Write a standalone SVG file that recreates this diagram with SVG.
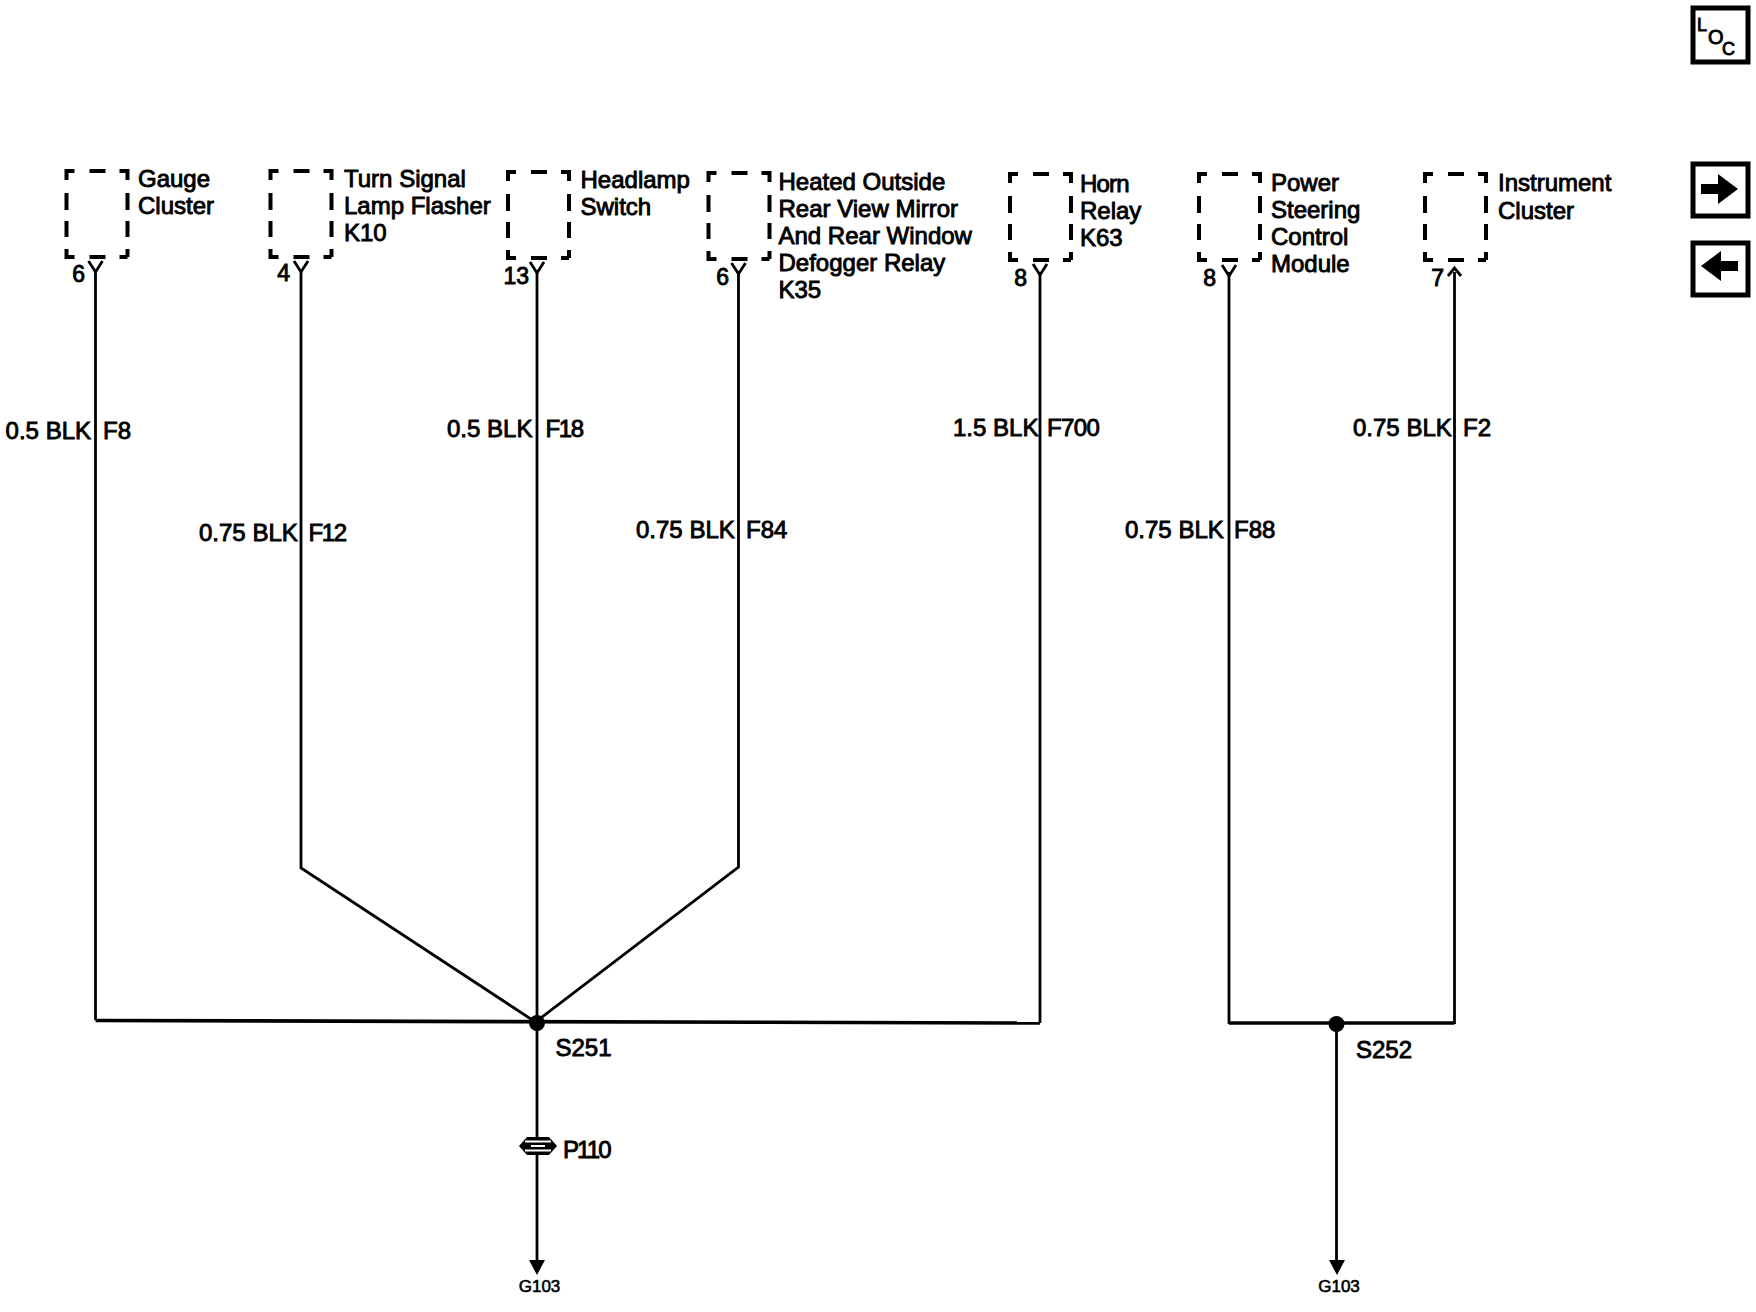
<svg xmlns="http://www.w3.org/2000/svg" width="1756" height="1312" viewBox="0 0 1756 1312">
<style>
text{font-family:"Liberation Sans",Arial,sans-serif;font-size:24px;fill:#000;stroke:#000;stroke-width:.9px}
.pin{text-anchor:end;font-size:23px}
.g{font-size:17px;text-anchor:middle;stroke-width:.6px}
.n{letter-spacing:-1.4px}
.w{fill:none;stroke:#000;stroke-width:2.8}
.bus{fill:none;stroke:#000;stroke-width:3.6}
.b{fill:none;stroke:#000;stroke-width:4}
.ic{fill:#fff;stroke:#000;stroke-width:5}
</style>
<defs>
<path id="box" class="b" d="M0,9V0H8M23,0H39M53,0H61V9M61,22V39M61,50V66M61,86V78M61,86H53M39,86H23M8,86H0V78M0,66V50M0,39V22"/>
<path id="y" class="w" d="M-7,0L0,11L7,0"/>
</defs>
<rect width="1756" height="1312" fill="#fff"/>
<g id="connectors">
<path class="w" d="M95.500,272V1020"/>
<path class="w" d="M301,272V868L537,1023"/>
<path class="w" d="M537,272V1272"/>
<path class="w" d="M740,272V868L537,1023" transform="translate(-1.500,-1)"/>
<path class="w" d="M1040,272V1023"/>
<path class="w" d="M1231,272V1024" transform="translate(-2,0)"/>
<path class="w" d="M1458.500,272V1024" transform="translate(-4,0)"/>
<path class="w" d="M1339.500,1024V1268" transform="translate(-3,0)"/>
<path class="bus" d="M95.500,1020.500L1040,1023"/>
<path class="bus" d="M1229,1023H1454.500"/>
<path d="M529,1260H545L537,1275Z"/>
<path d="M1329,1260H1345L1337,1275Z"/>
<text x="5.600" y="439">0.5 BLK</text><text x="103" y="439">F8</text>
<text x="199" y="541">0.75 BLK</text><text x="308.500" y="541" class="n">F12</text>
<text x="447" y="437">0.5 BLK</text><text x="545.500" y="437" class="n">F18</text>
<text x="636" y="538">0.75 BLK</text><text x="746" y="538">F84</text>
<text x="953" y="436">1.5 BLK</text><text x="1047" y="436" style="letter-spacing:-.6px">F700</text>
<text x="1125" y="538">0.75 BLK</text><text x="1234" y="538">F88</text>
<text x="1353" y="436">0.75 BLK</text><text x="1463" y="436">F2</text>
</g>
<g id="gauge-cluster"><use href="#box" x="66.500" y="171"/><use href="#y" x="95.500" y="261"/><text class="pin" x="85" y="282">6</text><text x="138" y="187">Gauge</text><text x="138" y="214">Cluster</text></g>
<g id="turn-signal"><use href="#box" x="270.500" y="171"/><use href="#y" x="301" y="261"/><text class="pin" x="290" y="281">4</text><text x="344" y="187">Turn Signal</text><text x="344" y="214">Lamp Flasher</text><text x="344" y="241">K10</text></g>
<g id="headlamp"><use href="#box" x="508" y="172"/><use href="#y" x="537" y="262"/><text class="pin" x="529" y="284">13</text><text x="580.500" y="188">Headlamp</text><text x="580.500" y="215">Switch</text></g>
<g id="defogger"><use href="#box" x="708.500" y="173"/><use href="#y" x="738.500" y="263"/><text class="pin" x="729" y="285">6</text><text x="778.500" y="190">Heated Outside</text><text x="778.500" y="217">Rear View Mirror</text><text x="778.500" y="244">And Rear Window</text><text x="778.500" y="271">Defogger Relay</text><text x="778.500" y="298">K35</text></g>
<g id="horn-relay"><use href="#box" x="1010" y="174"/><use href="#y" x="1040" y="264"/><text class="pin" x="1027" y="286">8</text><text x="1080" y="192" style="letter-spacing:-.8px">Horn</text><text x="1080" y="219">Relay</text><text x="1080" y="246">K63</text></g>
<g id="power-steering"><use href="#box" x="1199" y="174"/><use href="#y" x="1229" y="265"/><text class="pin" x="1216" y="286">8</text><text x="1271" y="191">Power</text><text x="1271" y="218">Steering</text><text x="1271" y="245">Control</text><text x="1271" y="272">Module</text></g>
<g id="instrument-cluster"><use href="#box" x="1425" y="174"/><path class="w" d="M1448,276L1454.500,268L1461,276"/><text class="pin" x="1444" y="286">7</text><text x="1498" y="191">Instrument</text><text x="1498" y="219">Cluster</text></g>
<g id="s251"><circle cx="537" cy="1023" r="8"/><text x="555.500" y="1056">S251</text></g>
<g id="s252"><circle cx="1336.500" cy="1024" r="8"/><text x="1356" y="1058">S252</text></g>
<g id="p110"><path d="M519,1146L527,1137H549L557,1146L549,1155H527Z"/><path d="M525,1141.500H551M525,1150.500H551M531,1146H545" stroke="#fff" stroke-width="2.200" fill="none"/><text x="563" y="1158" style="letter-spacing:-1.9px">P110</text></g>
<g id="g103-left"><text class="g" x="539.500" y="1292">G103</text></g>
<g id="g103-right"><text class="g" x="1341" y="1292" transform="translate(-2,0)">G103</text></g>
<g id="loc"><rect class="ic" x="1693" y="8" width="55" height="54"/><text x="1697" y="31" style="font-size:18px">L</text><text x="1708" y="44" style="font-size:20px">O</text><text x="1722" y="55" style="font-size:18px">C</text></g>
<g id="next"><rect class="ic" x="1693" y="164" width="55" height="52"/><path d="M1701,184H1718V174L1738,189L1718,204V194H1701Z"/></g>
<g id="prev"><rect class="ic" x="1693" y="243" width="55" height="52"/><path d="M1738,261H1721V251L1701,266L1721,281V271H1738Z"/></g>
</svg>
